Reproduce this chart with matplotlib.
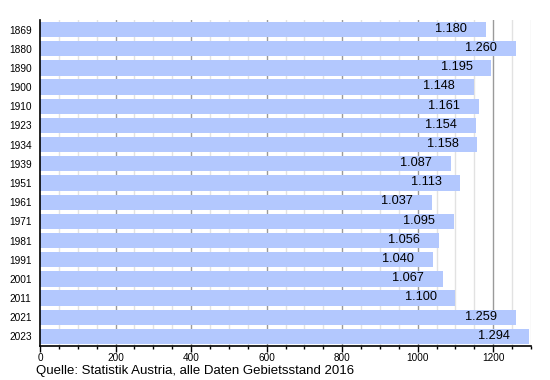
import matplotlib
matplotlib.use("Agg")
import matplotlib.pyplot as plt
from matplotlib.ticker import MultipleLocator

years = ["1869", "1880", "1890", "1900", "1910", "1923", "1934", "1939", "1951",
         "1961", "1971", "1981", "1991", "2001", "2011", "2021", "2023"]
values = [1180, 1260, 1195, 1148, 1161, 1154, 1158, 1087, 1113,
          1037, 1095, 1056, 1040, 1067, 1100, 1259, 1294]
labels = ["1.180", "1.260", "1.195", "1.148", "1.161", "1.154", "1.158", "1.087", "1.113",
          "1.037", "1.095", "1.056", "1.040", "1.067", "1.100", "1.259", "1.294"]
source = "Quelle: Statistik Austria, alle Daten Gebietsstand 2016"

plt.rcParams['font.family'] = ['Liberation Sans', 'DejaVu Sans']

fig = plt.figure(figsize=(5.5, 3.8), dpi=100)
ax = fig.add_axes([40/550, 34/380, 491/550, 326/380])

n = len(years)
ypos = list(range(n))
ax.set_xlim(0, 1300)
ax.set_ylim(n - 0.5, -0.5)

for x in range(50, 1301, 50):
    if x % 200 == 0:
        ax.axvline(x, color="#9a9a9a", lw=1.0, zorder=0)
    else:
        ax.axvline(x, color="#e2e2e2", lw=1.0, zorder=0)

ax.barh(ypos, values, height=0.8, color="#b3c8fe", zorder=2)

for y, v, t in zip(ypos, values, labels):
    ax.annotate(t, xy=(v, y), xytext=(-13.5, 0.5), textcoords="offset points",
                ha="right", va="center", fontsize=9.2, color="black", zorder=3)

ax.set_yticks(ypos)
ax.set_yticklabels(years, fontsize=7.3)
ax.tick_params(axis="y", length=0, pad=6)

ax.xaxis.set_major_locator(MultipleLocator(200))
ax.xaxis.set_minor_locator(MultipleLocator(50))
ax.tick_params(axis="x", which="major", length=4, width=1, labelsize=7.2, pad=1, color="black")
ax.tick_params(axis="x", which="minor", length=2.5, width=1, color="black")

for s in ["top", "right"]:
    ax.spines[s].set_visible(False)
ax.spines["left"].set_linewidth(1.2)
ax.spines["bottom"].set_linewidth(1.2)

fig.text(36/550, 1 - 371/380, source, fontsize=9.5, ha="left", va="center")

fig.savefig("out.png", dpi=100)
